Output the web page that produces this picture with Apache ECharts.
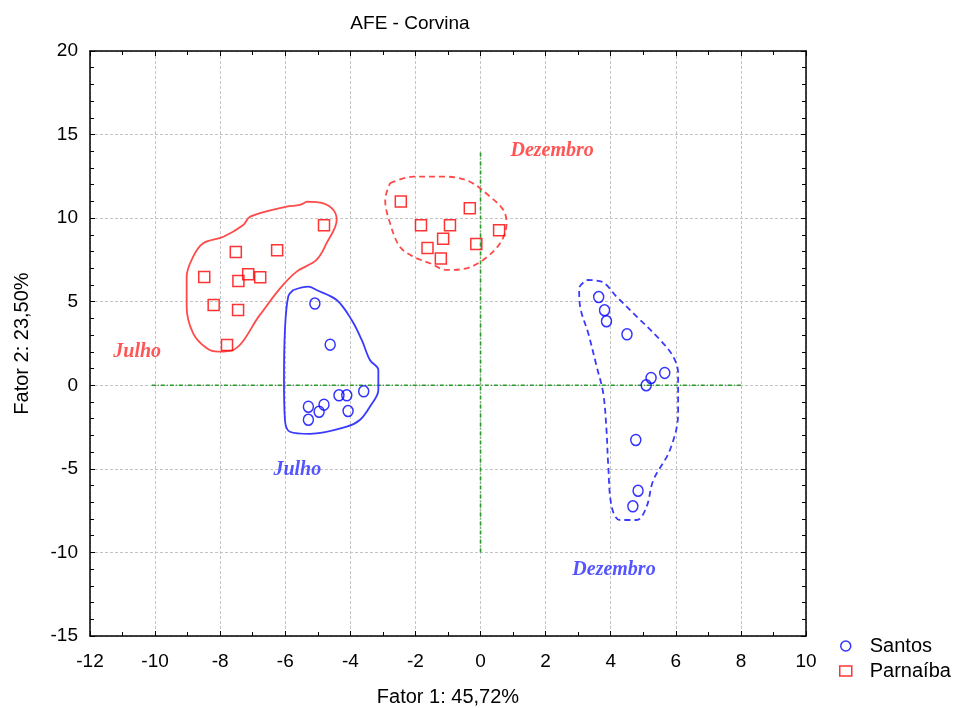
<!DOCTYPE html>
<html>
<head>
<meta charset="utf-8">
<script src="https://cdn.jsdelivr.net/npm/echarts@6/dist/echarts.min.js"></script>
<style>
  html, body { margin: 0; padding: 0; background: #fff; }
  #chart { width: 955px; height: 708px; }
</style>
</head>
<body>
<div id="chart"></div>
<script>
// Factor scores (Fator 1, Fator 2) per sample
const santos = [
  [-5.09, 4.89], [-4.62, 2.43], [-3.59, -0.36], [-4.35, -0.60], [-4.11, -0.60],
  [-4.81, -1.16], [-5.29, -1.28], [-4.96, -1.58], [-4.07, -1.54], [-5.29, -2.06],
  [3.63, 5.28], [3.81, 4.49], [3.87, 3.83], [4.50, 3.05], [5.66, 0.74],
  [5.24, 0.44], [5.09, 0.00], [4.77, -3.27], [4.84, -6.31], [4.68, -7.24]
];
const parnaiba = [
  [-4.81, 9.57], [-7.52, 7.98], [-6.25, 8.08], [-8.49, 6.48], [-7.14, 6.64],
  [-7.44, 6.24], [-6.77, 6.46], [-8.20, 4.81], [-7.45, 4.51], [-7.79, 2.41],
  [-2.45, 10.99], [-0.33, 10.59], [-1.83, 9.57], [-0.94, 9.57], [0.57, 9.28],
  [-1.15, 8.76], [-0.13, 8.46], [-1.63, 8.22], [-1.22, 7.58]
];

// Group outlines (hand-drawn envelopes around each month/site)
const outlineParnaibaJulho = [
  [-5.34, 10.99], [-5.55, 10.79], [-5.96, 10.69], [-7.08, 10.09], [-7.29, 9.59],
  [-7.90, 8.89], [-8.52, 8.50], [-8.83, 7.70], [-9.03, 6.50], [-9.03, 4.70],
  [-8.83, 3.11], [-8.41, 2.21], [-8.06, 2.01], [-7.60, 2.11], [-6.78, 4.21],
  [-6.16, 5.80], [-5.65, 6.80], [-5.04, 7.50], [-4.73, 8.50], [-4.42, 9.89],
  [-4.52, 10.49], [-4.83, 10.89], [-5.34, 10.99]
];
const outlineSantosJulho = [
  [-5.75, 5.70], [-5.29, 5.90], [-5.04, 5.70], [-4.42, 5.10], [-3.96, 3.91],
  [-3.65, 2.71], [-3.40, 1.51], [-3.14, 0.92], [-3.14, -0.28], [-3.40, -1.28],
  [-3.71, -2.08], [-4.11, -2.48], [-5.24, -2.91], [-5.86, -2.78], [-6.01, -2.08],
  [-6.04, 0.32], [-6.01, 3.31], [-5.91, 5.30], [-5.75, 5.70]
];
const outlineParnaibaDezembro = [
  [-2.78, 12.09], [-2.07, 12.48], [-1.04, 12.48], [-0.33, 12.18], [0.29, 11.29],
  [0.70, 10.49], [0.80, 9.69], [0.60, 8.50], [0.08, 7.50], [-0.43, 7.00],
  [-1.04, 6.90], [-1.55, 7.30], [-2.07, 7.70], [-2.48, 8.29], [-2.78, 9.69],
  [-2.93, 11.09], [-2.78, 12.09]
];
const outlineSantosDezembro = [
  [3.26, 6.30], [3.72, 6.20], [4.18, 5.30], [4.80, 4.11], [5.52, 2.71],
  [5.92, 1.71], [6.07, 0.72], [6.07, -1.68], [5.82, -3.87], [5.31, -5.67],
  [5.10, -7.27], [4.80, -8.06], [4.28, -8.06], [4.03, -7.27], [3.92, -4.67],
  [3.87, -2.68], [3.77, -0.48], [3.57, 1.11], [3.31, 3.11], [3.06, 4.70],
  [3.03, 5.80], [3.26, 6.30]
];

// Group captions
const redCaptions = [ [2.2, 14.0, 'Dezembro'], [-10.55, 2.0, 'Julho'] ];
const blueCaptions = [ [-5.63, -5.07, 'Julho'], [4.10, -11.05, 'Dezembro'] ];

// Reference axes through the origin
const hAxisLine = [[-10.1, 0], [8, 0]];
const vAxisLine = [[0, -10], [0, 14]];

const xMin = -12, xMax = 10, xStep = 2;
const yMin = -15, yMax = 20, yStep = 5;

const RED = '#ff0000', BLUE = '#0000ff';
const labelFont = 'Liberation Sans, Arial, sans-serif';

function outline(data, color, dashed) {
  return {
    type: 'line', data, smooth: 0.35, symbol: 'none', silent: true,
    lineStyle: { color, width: 1.8, type: dashed ? [6, 4] : 'solid' },
    z: 2
  };
}
function captions(data, color) {
  return {
    type: 'scatter', data, symbolSize: 0, silent: true,
    label: {
      show: true, position: 'inside', formatter: p => p.data[2],
      color, fontFamily: 'Liberation Serif, Times New Roman, serif',
      fontStyle: 'italic', fontWeight: 'bold', fontSize: 20
    },
    z: 4
  };
}
function guide(data) {
  return {
    type: 'line', data, symbol: 'none', silent: true,
    lineStyle: { color: '#2a9a2a', width: 1.6, type: [4, 2, 1, 2] }, z: 1
  };
}
const sideAxis = {
  axisLine: { onZero: false, lineStyle: { color: '#000', width: 1.5 } },
  axisTick: { inside: true, length: 5, lineStyle: { color: '#000' } },
  axisLabel: { show: false }, splitLine: { show: false }
};

const chart = echarts.init(document.getElementById('chart'));
chart.setOption({
  animation: false,
  backgroundColor: '#fff',
  title: {
    text: 'AFE - Corvina', left: 405, top: 9, textAlign: 'center',
    textStyle: { fontFamily: labelFont, fontWeight: 'normal', fontSize: 19, color: '#000' }
  },
  grid: { left: 90, right: 149, top: 51, bottom: 72, outerBoundsMode: 'none', containLabel: false },
  legend: {
    orient: 'vertical', left: 834, top: 631, itemGap: 5,
    itemWidth: 12, itemHeight: 10,
    textStyle: { fontFamily: labelFont, fontSize: 20, color: '#000', padding: [0, 0, 0, 13] },
    data: [
      { name: 'Santos', icon: 'circle', itemStyle: { color: '#fff', borderColor: BLUE, borderWidth: 1.5 } },
      { name: 'Parnaíba', icon: 'rect', itemStyle: { color: '#fff', borderColor: RED, borderWidth: 1.5 } }
    ]
  },
  xAxis: [{
    type: 'value', min: xMin, max: xMax, interval: xStep, position: 'bottom',
    name: 'Fator 1: 45,72%', nameLocation: 'middle', nameGap: 51,
    nameTextStyle: { fontFamily: labelFont, fontSize: 20, color: '#000' },
    axisLine: { onZero: false, lineStyle: { color: '#000', width: 1.5 } },
    axisTick: { inside: true, length: 5, lineStyle: { color: '#000' } },
    minorTick: { show: true, splitNumber: 2, length: 4, lineStyle: { color: '#000' } },
    axisLabel: { fontFamily: labelFont, fontSize: 19, color: '#000', margin: 16 },
    splitLine: { show: true, lineStyle: { color: '#c4c4c4', type: [3, 2] } }
  }, Object.assign({
    type: 'value', min: xMin, max: xMax, interval: xStep, position: 'top',
    minorTick: { show: true, splitNumber: 2, length: 4, lineStyle: { color: '#000' } }
  }, sideAxis)],
  yAxis: [{
    type: 'value', min: yMin, max: yMax, interval: yStep, position: 'left',
    name: 'Fator 2: 23,50%', nameLocation: 'middle', nameGap: 58,
    nameTextStyle: { fontFamily: labelFont, fontSize: 20, color: '#000' },
    axisLine: { onZero: false, lineStyle: { color: '#000', width: 1.5 } },
    axisTick: { inside: true, length: 5, lineStyle: { color: '#000' } },
    minorTick: { show: true, splitNumber: 5, length: 4, lineStyle: { color: '#000' } },
    axisLabel: { fontFamily: labelFont, fontSize: 19, color: '#000', margin: 12 },
    splitLine: { show: true, lineStyle: { color: '#c4c4c4', type: [3, 2] } }
  }, Object.assign({
    type: 'value', min: yMin, max: yMax, interval: yStep, position: 'right',
    minorTick: { show: true, splitNumber: 5, length: 4, lineStyle: { color: '#000' } }
  }, sideAxis)],
  series: [
    guide(hAxisLine),
    guide(vAxisLine),
    outline(outlineParnaibaJulho, '#ff4a4a', false),
    outline(outlineSantosJulho, '#3a3aff', false),
    outline(outlineParnaibaDezembro, '#ff4a4a', true),
    outline(outlineSantosDezembro, '#3a3aff', true),
    {
      name: 'Santos', type: 'scatter', data: santos, symbol: 'circle', symbolSize: [10, 11],
      itemStyle: { color: 'rgba(255,255,255,0)', borderColor: BLUE, borderWidth: 1.5 }, z: 5
    },
    {
      name: 'Parnaíba', type: 'scatter', data: parnaiba, symbol: 'rect', symbolSize: 11,
      itemStyle: { color: 'rgba(255,255,255,0)', borderColor: RED, borderWidth: 1.5 }, z: 5
    },
    captions(redCaptions, '#ff2a2a'),
    captions(blueCaptions, '#2a2aff')
  ]
});
</script>
</body>
</html>
